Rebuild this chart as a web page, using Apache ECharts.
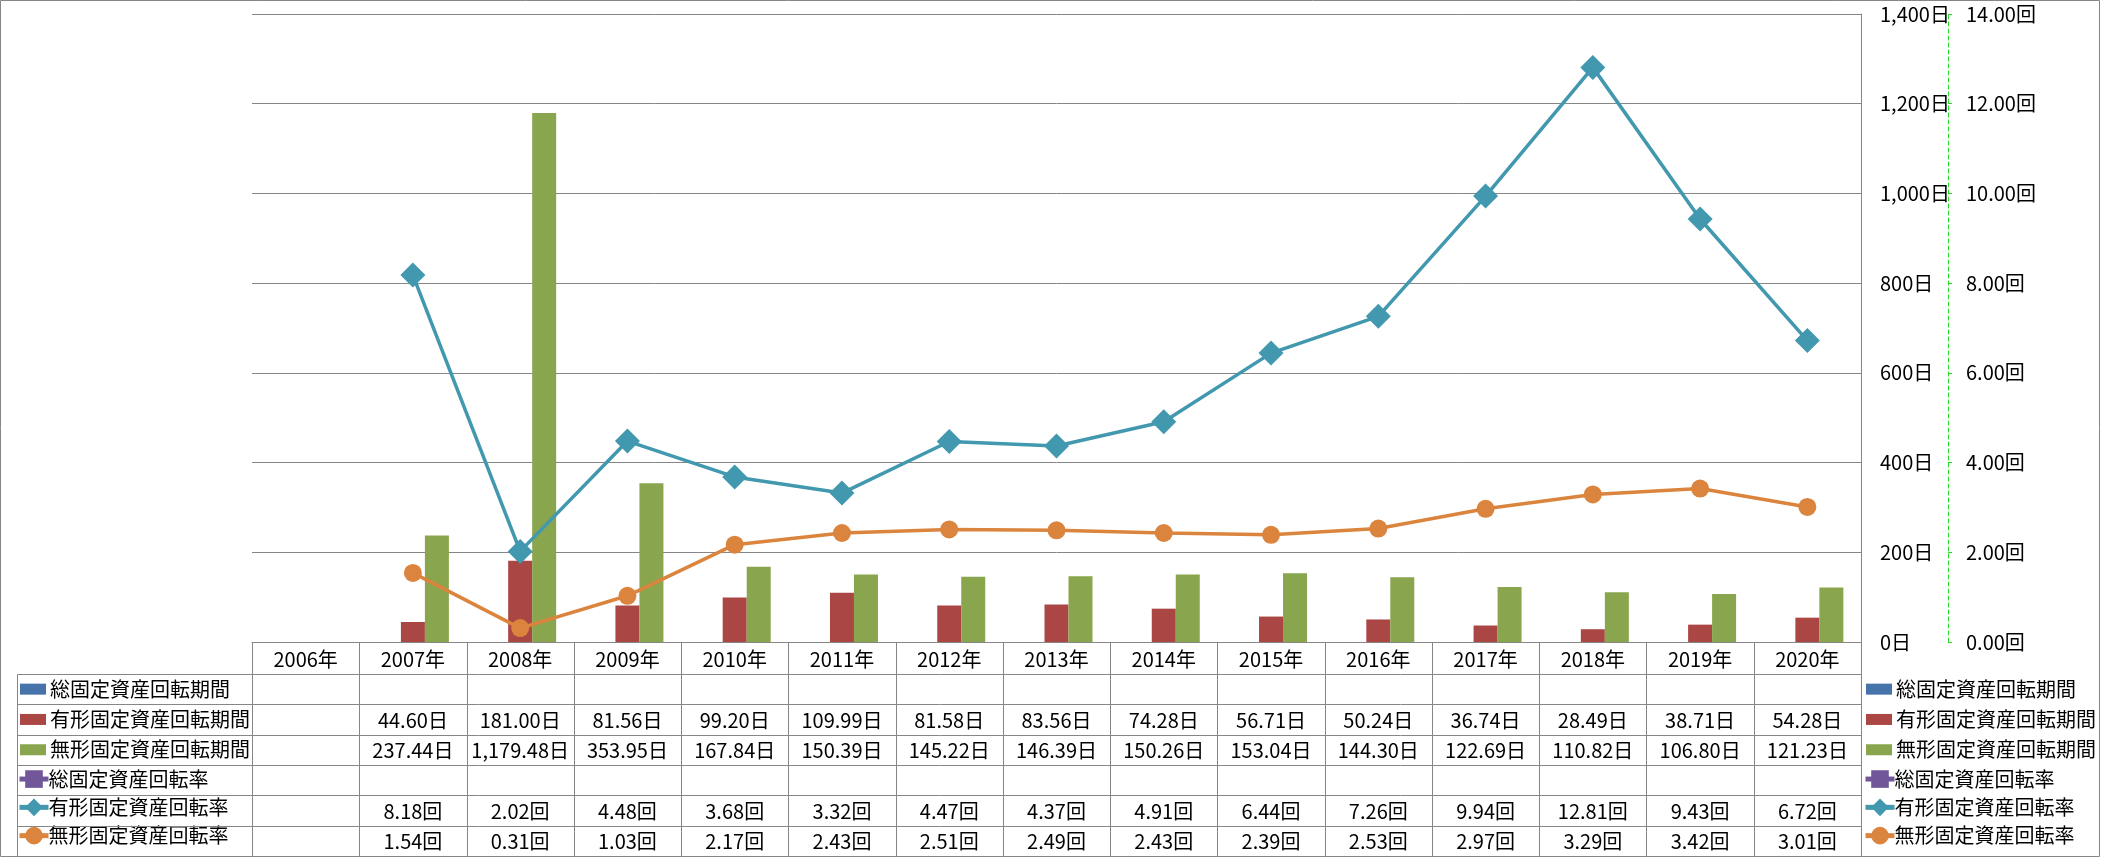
<!DOCTYPE html>
<html>
<head>
<meta charset="utf-8">
<script src="https://cdn.jsdelivr.net/npm/echarts@6/dist/echarts.min.js"></script>
<style>
html,body{margin:0;padding:0;background:#fff;}
#c{width:2101px;height:858px;}
</style>
</head>
<body>
<div id="c"></div>
<script>
// ---- data ----
const years = ['2006年','2007年','2008年','2009年','2010年','2011年','2012年','2013年','2014年','2015年','2016年','2017年','2018年','2019年','2020年'];
const totalPeriod = [null,null,null,null,null,null,null,null,null,null,null,null,null,null,null];
const tangiblePeriod = [null,44.60,181.00,81.56,99.20,109.99,81.58,83.56,74.28,56.71,50.24,36.74,28.49,38.71,54.28];
const intangiblePeriod = [null,237.44,1179.48,353.95,167.84,150.39,145.22,146.39,150.26,153.04,144.30,122.69,110.82,106.80,121.23];
const totalRate = [null,null,null,null,null,null,null,null,null,null,null,null,null,null,null];
const tangibleRate = [null,8.18,2.02,4.48,3.68,3.32,4.47,4.37,4.91,6.44,7.26,9.94,12.81,9.43,6.72];
const intangibleRate = [null,1.54,0.31,1.03,2.17,2.43,2.51,2.49,2.43,2.39,2.53,2.97,3.29,3.42,3.01];
const seriesNames = ['総固定資産回転期間','有形固定資産回転期間','無形固定資産回転期間','総固定資産回転率','有形固定資産回転率','無形固定資産回転率'];
const seriesUnits = ['日','日','日','回','回','回'];
const periodAxis = {min:0, max:1400, interval:200, unit:'日'};
const rateAxis = {min:0, max:14, interval:2, unit:'回'};

const colors = ['#4673AA','#AA4644','#89A54E','#71579A','#4198AF','#DB843D'];
const FONT = "'Liberation Sans Narrow','Noto Sans CJK JP',sans-serif";
const GRID = '#868686';

function fmt(v, d){ return v.toLocaleString('en-US',{minimumFractionDigits:d, maximumFractionDigits:d}); }

const chart = echarts.init(document.getElementById('c'), null, {renderer:'canvas'});

// table geometry (row heights) used for legend placement
const HEAD_H = 32, ROW_H = 30.3;
const PLOT_BOTTOM = 642;
const firstRowTop = PLOT_BOTTOM + HEAD_H;

const textStyleLegend = {fontFamily:FONT, fontSize:20, color:'#000', lineHeight:20};
function barLegend(left){
  return {
    orient:'vertical', left:left, top:firstRowTop + ROW_H/2 - 10, padding:0,
    itemWidth:26, itemHeight:11, itemGap:ROW_H-20, selectedMode:false,
    textStyle:Object.assign({padding:[0,0,0,-1]}, textStyleLegend),
    data: seriesNames.slice(0,3).map(n=>({name:n, icon:'rect'}))
  };
}
function lineLegend(left){
  return {
    orient:'vertical', left:left, top:firstRowTop + ROW_H*3.5 - 11, padding:0,
    itemWidth:29, itemHeight:22, itemGap:ROW_H-22, selectedMode:false,
    lineStyle:{width:5},
    textStyle:Object.assign({padding:[0,0,0,-5]}, textStyleLegend),
    data: seriesNames.slice(3)
  };
}

const option = {
  animation:false,
  color: colors,
  grid:{left:252, right:240, top:14, bottom:858-PLOT_BOTTOM},
  legend:[ barLegend(20), lineLegend(17), barLegend(1866), lineLegend(1863) ],
  xAxis:{
    type:'category', data:years, boundaryGap:true,
    axisLine:{show:true, lineStyle:{color:GRID, width:1}},
    axisTick:{show:false}, axisLabel:{show:false}
  },
  yAxis:[
    {
      type:'value', position:'right', min:periodAxis.min, max:periodAxis.max, interval:periodAxis.interval,
      axisLine:{show:true, lineStyle:{color:GRID, width:1}},
      axisTick:{show:false},
      splitLine:{show:true, lineStyle:{color:GRID, width:1}},
      axisLabel:{margin:19, fontFamily:FONT, fontSize:20, color:'#000',
        formatter:v=>fmt(v,0)+periodAxis.unit}
    },
    {
      type:'value', position:'right', offset:87, min:rateAxis.min, max:rateAxis.max, interval:rateAxis.interval,
      axisLine:{show:true, lineStyle:{color:'#22dd22', width:1, type:[4,3]}},
      axisTick:{show:true, inside:false, length:4, lineStyle:{color:'#22dd22', width:1}},
      splitLine:{show:false},
      axisLabel:{margin:18, fontFamily:FONT, fontSize:20, color:'#000',
        formatter:v=>fmt(v,2)+rateAxis.unit}
    }
  ],
  series:[
    {name:seriesNames[0], type:'bar', data:totalPeriod, barWidth:24, barGap:'0%', itemStyle:{color:colors[0]}},
    {name:seriesNames[1], type:'bar', data:tangiblePeriod, barWidth:24, barGap:'0%', itemStyle:{color:colors[1]}},
    {name:seriesNames[2], type:'bar', data:intangiblePeriod, barWidth:24, barGap:'0%', itemStyle:{color:colors[2]}},
    {name:seriesNames[3], type:'line', yAxisIndex:1, data:totalRate, symbol:'rect', symbolSize:14,
      lineStyle:{color:colors[3], width:4}, itemStyle:{color:colors[3]}},
    {name:seriesNames[4], type:'line', yAxisIndex:1, data:tangibleRate, symbol:'diamond', symbolSize:25,
      lineStyle:{color:colors[4], width:3.5}, itemStyle:{color:colors[4]}, z:4},
    {name:seriesNames[5], type:'line', yAxisIndex:1, data:intangibleRate, symbol:'circle', symbolSize:18,
      lineStyle:{color:colors[5], width:3.5}, itemStyle:{color:colors[5]}, z:3}
  ]
};
chart.setOption(option);

// ---- data table (below the plot) ----
function buildTable(){
  const n = years.length;
  const c0 = chart.convertToPixel({xAxisIndex:0}, 0);
  const c1 = chart.convertToPixel({xAxisIndex:0}, 1);
  const colW = c1 - c0;
  const x0 = c0 - colW/2;
  const xEnd = x0 + colW*n;
  const yTop = chart.convertToPixel({yAxisIndex:0}, 0);
  const legendLeft = 17;
  const rows = [totalPeriod, tangiblePeriod, intangiblePeriod, totalRate, tangibleRate, intangibleRate];
  const yBottom = yTop + HEAD_H + ROW_H*rows.length;
  const g = [];
  const px = v => Math.round(v)+0.5;
  const ln = (x1,y1,x2,y2)=>({type:'line', silent:true, shape:{x1:px(x1),y1:px(y1),x2:px(x2),y2:px(y2)}, style:{stroke:GRID, lineWidth:1}, z:10});
  // outer frame
  g.push({type:'rect', silent:true, shape:{x:0.5,y:0.5,width:2099,height:856}, style:{fill:null, stroke:GRID, lineWidth:1}, z:10});
  // horizontal lines
  g.push(ln(x0, yTop, xEnd, yTop));
  for(let r=0;r<=rows.length;r++){
    const y = yTop + HEAD_H + r*ROW_H;
    g.push(ln(legendLeft, y, xEnd, y));
  }
  // vertical lines
  g.push(ln(legendLeft, yTop+HEAD_H, legendLeft, yBottom));
  for(let k=0;k<=n;k++){
    const x = x0 + k*colW;
    g.push(ln(x, yTop, x, yBottom));
  }
  // header text
  years.forEach((y,i)=>{
    g.push({type:'text', silent:true, x:x0+colW*(i+0.5), y:yTop+HEAD_H/2+1,
      style:{text:y, fontFamily:FONT, fontSize:20, fill:'#000', align:'center', verticalAlign:'middle'}, z:11});
  });
  // cells
  rows.forEach((arr,r)=>{
    arr.forEach((v,i)=>{
      if(v==null) return;
      g.push({type:'text', silent:true, x:x0+colW*(i+0.5), y:yTop+HEAD_H+ROW_H*(r+0.5)+1,
        style:{text:fmt(v,2)+seriesUnits[r], fontFamily:FONT, fontSize:20, fill:'#000', align:'center', verticalAlign:'middle'}, z:11});
    });
  });
  chart.setOption({graphic:g});
}
buildTable();
</script>
</body>
</html>
